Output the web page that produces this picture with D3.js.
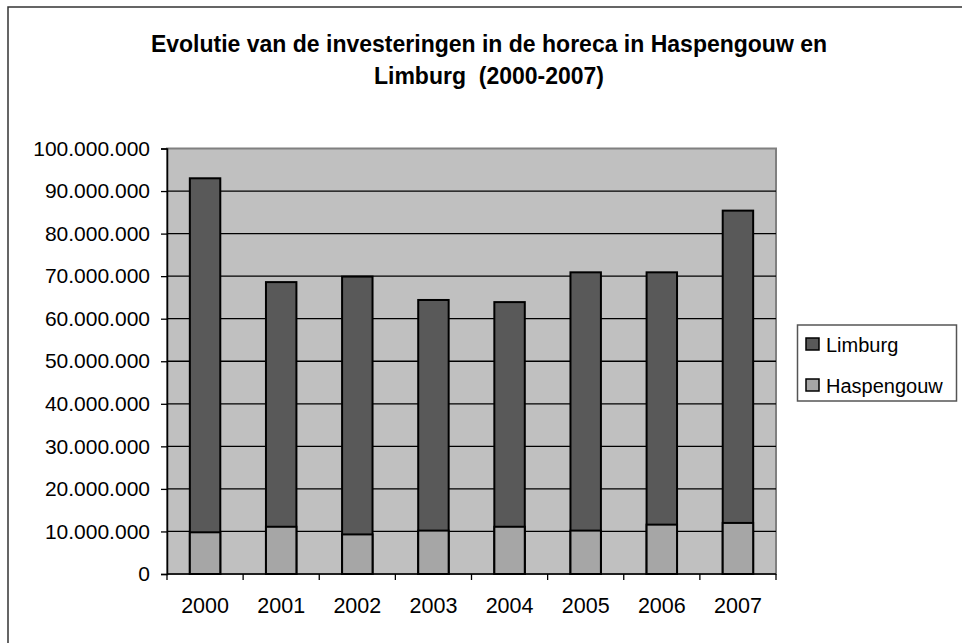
<!DOCTYPE html>
<html>
<head>
<meta charset="utf-8">
<script src="https://cdn.jsdelivr.net/npm/d3@7"></script>
<style>
  html, body { margin: 0; padding: 0; background: #fff; }
  svg { display: block; font-family: "Liberation Sans", Arial, sans-serif; }
  text { white-space: pre; }
</style>
</head>
<body>
<svg id="chart" width="962" height="643"></svg>
<script>
const years = ["2000", "2001", "2002", "2003", "2004", "2005", "2006", "2007"];
const limburg = [93000000, 68600000, 69900000, 64400000, 63900000, 70900000, 70900000, 85400000];
const haspengouw = [9800000, 11100000, 9300000, 10200000, 11100000, 10200000, 11600000, 12000000];
const yTicks = [0, 10000000, 20000000, 30000000, 40000000, 50000000, 60000000, 70000000, 80000000, 90000000, 100000000];
const seriesNames = ["Limburg", "Haspengouw"];
const seriesColors = ["#595959", "#a6a6a6"];
const titleLines = ["Evolutie van de investeringen in de horeca in Haspengouw en", "Limburg  (2000-2007)"];

const svg = d3.select("#chart");

// outer chart border
svg.append("rect")
  .attr("x", 8).attr("y", 7).attr("width", 1000).attr("height", 700)
  .attr("fill", "#fff").attr("stroke", "#333").attr("stroke-width", 1.5);

const plot = { left: 167, right: 776, top: 148.5, bottom: 574 };

const x = d3.scaleBand().domain(years).range([plot.left, plot.right]).paddingInner(0.6).paddingOuter(0.3);
const xb = d3.scaleBand().domain(years).range([plot.left, plot.right]);
const y = d3.scaleLinear().domain([0, 100000000]).range([plot.bottom, plot.top]);

// plot background
svg.append("rect")
  .attr("x", plot.left).attr("y", plot.top)
  .attr("width", plot.right - plot.left).attr("height", plot.bottom - plot.top)
  .attr("fill", "#c0c0c0").attr("stroke", "#808080").attr("stroke-width", 2);

// gridlines
svg.append("g").selectAll("line").data(yTicks.filter(d => d > 0 && d < 100000000)).join("line")
  .attr("x1", plot.left).attr("x2", plot.right)
  .attr("y1", d => y(d)).attr("y2", d => y(d))
  .attr("stroke", "#000").attr("stroke-width", 1.3);

// title
svg.append("g").selectAll("text").data(titleLines).join("text")
  .attr("x", 489).attr("y", (d, i) => 52 + i * 32)
  .attr("text-anchor", "middle")
  .attr("font-size", 23).attr("font-weight", "bold")
  .attr("fill", "#000")
  .attr("xml:space", "preserve")
  .text(d => d);

// bars: Limburg (full) then Haspengouw overlapping
const fmt = d3.formatLocale({ decimal: ",", thousands: ".", grouping: [3] }).format(",.0f");

svg.append("g").selectAll("rect").data(years).join("rect")
  .attr("x", d => x(d)).attr("width", x.bandwidth())
  .attr("y", (d, i) => y(limburg[i]))
  .attr("height", (d, i) => y(0) - y(limburg[i]))
  .attr("fill", seriesColors[0]).attr("stroke", "#000").attr("stroke-width", 2);

svg.append("g").selectAll("rect").data(years).join("rect")
  .attr("x", d => x(d)).attr("width", x.bandwidth())
  .attr("y", (d, i) => y(haspengouw[i]))
  .attr("height", (d, i) => y(0) - y(haspengouw[i]))
  .attr("fill", seriesColors[1]).attr("stroke", "#000").attr("stroke-width", 2);

// y axis
const yAxis = d3.axisLeft(y).tickValues(yTicks).tickSize(6).tickPadding(11).tickFormat(fmt);
const gy = svg.append("g").attr("transform", `translate(${plot.left},0)`).call(yAxis);
gy.select(".domain").attr("stroke", "#000").attr("stroke-width", 1.5);
gy.selectAll(".tick line").attr("stroke", "#000").attr("stroke-width", 1.3);
gy.selectAll(".tick text").attr("font-size", 21).attr("fill", "#000")
  .attr("font-family", "'Liberation Sans', Arial, sans-serif");

// x axis
const gx = svg.append("g").attr("transform", `translate(0,${plot.bottom})`);
gx.append("line").attr("x1", plot.left).attr("x2", plot.right).attr("y1", 0).attr("y2", 0)
  .attr("stroke", "#000").attr("stroke-width", 1.5);
gx.selectAll("line.tk").data(years.concat(["end"])).join("line").attr("class", "tk")
  .attr("x1", (d, i) => i < years.length ? xb(d) : plot.right)
  .attr("x2", (d, i) => i < years.length ? xb(d) : plot.right)
  .attr("y1", 0).attr("y2", 6).attr("stroke", "#000").attr("stroke-width", 1.3);
gx.selectAll("text").data(years).join("text")
  .attr("x", d => xb(d) + xb.bandwidth() / 2)
  .attr("y", 39)
  .attr("text-anchor", "middle").attr("font-size", 21.5).attr("fill", "#000")
  .text(d => d);

// legend
const lg = svg.append("g");
lg.append("rect").attr("x", 797.5).attr("y", 325).attr("width", 159).attr("height", 76)
  .attr("fill", "#fff").attr("stroke", "#555").attr("stroke-width", 1.5);
const items = lg.selectAll("g.it").data(seriesNames).join("g").attr("class", "it")
  .attr("transform", (d, i) => `translate(0,${i * 41})`);
items.append("rect").attr("x", 806).attr("y", 338).attr("width", 13).attr("height", 12)
  .attr("fill", (d, i) => seriesColors[i]).attr("stroke", "#000").attr("stroke-width", 1.5);
items.append("text").attr("x", 826).attr("y", 351.5).attr("font-size", 20).attr("fill", "#000")
  .text(d => d);
</script>
</body>
</html>
